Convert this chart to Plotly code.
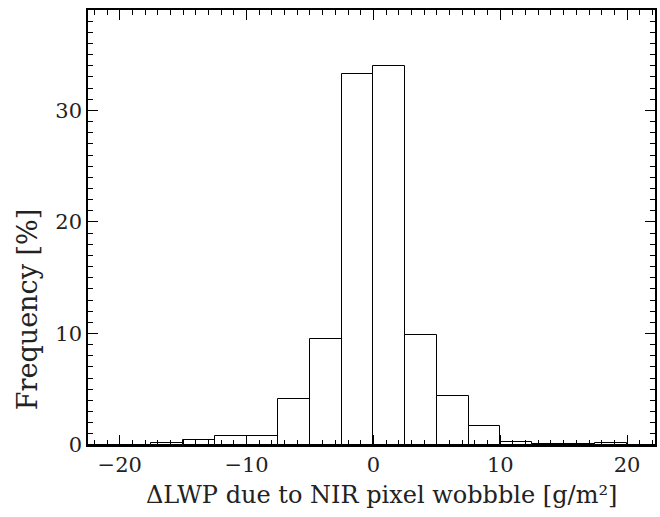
import plotly.graph_objects as go

bin_centers = [-21.25, -18.75, -16.25, -13.75, -11.25, -8.75, -6.25, -3.75, -1.25,
               1.25, 3.75, 6.25, 8.75, 11.25, 13.75, 16.25, 18.75, 21.25]
frequency = [0.0, 0.03, 0.2, 0.48, 0.84, 0.84, 4.1, 9.5, 33.3,
             34.0, 9.9, 4.4, 1.7, 0.3, 0.05, 0.05, 0.15, 0.02]
bin_width = 2.5
x_ticks = [-20, -10, 0, 10, 20]
y_ticks = [0, 10, 20, 30]
x_title = "ΔLWP due to NIR pixel wobbble [g/m²]"
y_title = "Frequency [%]"

font_family = "DejaVu Serif"

fig = go.Figure()
fig.add_trace(go.Bar(
    x=bin_centers, y=frequency, width=bin_width,
    marker=dict(color="white", line=dict(color="black", width=1)),
    showlegend=False,
))

axis_common = dict(
    showline=True, linecolor="black", linewidth=1.5, mirror="allticks",
    ticks="inside", ticklen=10, tickwidth=1, tickcolor="black",
    showgrid=False, zeroline=False,
    tickfont=dict(family=font_family, size=21, color="#222"),
)

fig.update_xaxes(
    range=[-22.5, 22.2], tickvals=x_ticks,
    minor=dict(dtick=1, ticks="inside", ticklen=5, tickcolor="black", showgrid=False),
    **axis_common,
)
fig.update_yaxes(
    range=[0, 39], tickvals=y_ticks,
    minor=dict(dtick=1, ticks="inside", ticklen=5, tickcolor="black", showgrid=False),
    **axis_common,
)

fig.add_annotation(
    text=x_title, xref="paper", yref="paper", x=0.518, y=0, yshift=-50,
    xanchor="center", yanchor="middle", showarrow=False,
    font=dict(family=font_family, size=24, color="#222"),
)
fig.add_annotation(
    text=y_title, xref="paper", yref="paper", x=0, xshift=-61, y=0.31,
    xanchor="center", yanchor="middle", showarrow=False, textangle=-90,
    font=dict(family=font_family, size=27, color="#222"),
)

fig.update_layout(
    width=660, height=517,
    margin=dict(l=88, r=3, t=10, b=72),
    plot_bgcolor="white", paper_bgcolor="white",
    bargap=0,
)

fig.write_html("out.html")
